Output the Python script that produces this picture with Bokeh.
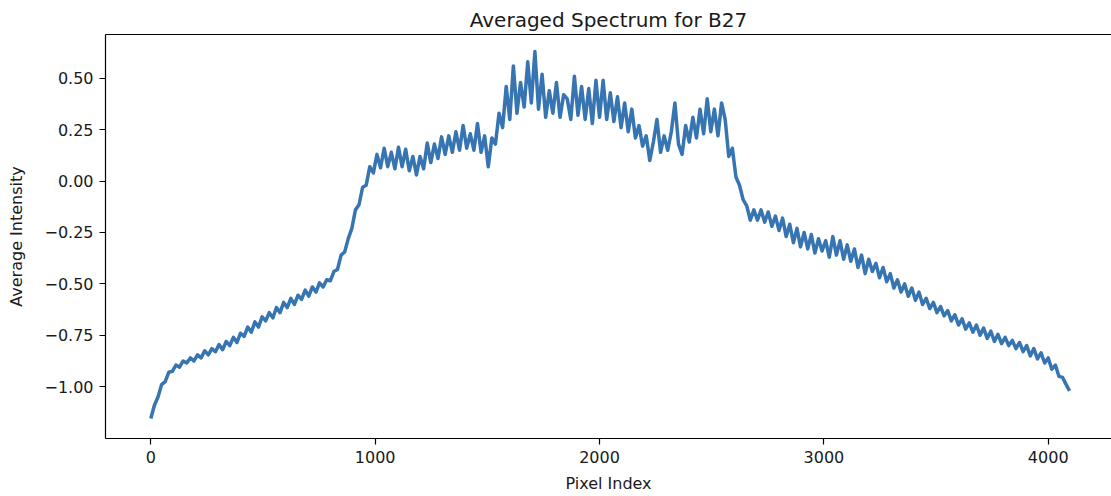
from bokeh.plotting import figure
from bokeh.models import Range1d, FixedTicker, CustomJSTickFormatter, ColumnDataSource, LinearAxis
from bokeh.embed import file_html
from bokeh.resources import INLINE

# ---- data ----
pixel_index = list(range(0, 4096, 16)) + [4095]

intensity = [
    # 0 - 240
    -1.155, -1.09, -1.05, -0.99, -0.975, -0.93, -0.925, -0.895,
    -0.905, -0.875, -0.885, -0.86, -0.875, -0.845, -0.86, -0.825,
    # 256 - 496
    -0.845, -0.815, -0.83, -0.795, -0.82, -0.78, -0.80, -0.76,
    -0.785, -0.74, -0.755, -0.71, -0.735, -0.685, -0.71, -0.66,
    # 512 - 752
    -0.68, -0.64, -0.665, -0.615, -0.64, -0.59, -0.615, -0.57,
    -0.60, -0.555, -0.575, -0.53, -0.56, -0.515, -0.54, -0.495,
    # 768 - 1008
    -0.515, -0.48, -0.485, -0.44, -0.43, -0.36, -0.345, -0.28,
    -0.23, -0.14, -0.115, -0.03, -0.02, 0.07, 0.04, 0.13,
    # 1024 - 1264
    0.065, 0.16, 0.07, 0.14, 0.06, 0.165, 0.07, 0.155,
    0.05, 0.12, 0.03, 0.12, 0.06, 0.185, 0.09, 0.18,
    # 1280 - 1520
    0.11, 0.215, 0.13, 0.22, 0.14, 0.24, 0.15, 0.27,
    0.16, 0.23, 0.15, 0.28, 0.14, 0.22, 0.07, 0.21,
    # 1536 - 1776
    0.18, 0.33, 0.26, 0.46, 0.30, 0.56, 0.33, 0.48,
    0.36, 0.58, 0.38, 0.63, 0.35, 0.52, 0.31, 0.44,
    # 1792 - 2032
    0.33, 0.48, 0.31, 0.42, 0.40, 0.30, 0.51, 0.32,
    0.46, 0.30, 0.45, 0.28, 0.49, 0.31, 0.49, 0.30,
    # 2048 - 2288
    0.43, 0.29, 0.41, 0.26, 0.38, 0.24, 0.35, 0.21,
    0.27, 0.17, 0.22, 0.10, 0.19, 0.30, 0.14, 0.22,
    # 2304 - 2544
    0.15, 0.24, 0.38, 0.18, 0.13, 0.27, 0.19, 0.31,
    0.21, 0.35, 0.23, 0.40, 0.24, 0.35, 0.22, 0.38,
    # 2560 - 2800
    0.30, 0.12, 0.16, 0.02, -0.02, -0.09, -0.12, -0.19,
    -0.14, -0.19, -0.14, -0.20, -0.15, -0.22, -0.17, -0.24,
    # 2816 - 3056
    -0.18, -0.27, -0.21, -0.30, -0.23, -0.32, -0.25, -0.33,
    -0.26, -0.35, -0.28, -0.34, -0.29, -0.37, -0.27, -0.36,
    # 3072 - 3312
    -0.29, -0.38, -0.31, -0.39, -0.33, -0.42, -0.36, -0.45,
    -0.38, -0.44, -0.40, -0.47, -0.42, -0.49, -0.45, -0.52,
    # 3328 - 3568
    -0.48, -0.54, -0.50, -0.56, -0.52, -0.58, -0.54, -0.60,
    -0.57, -0.62, -0.59, -0.64, -0.61, -0.655, -0.63, -0.68,
    # 3584 - 3824
    -0.65, -0.70, -0.67, -0.72, -0.69, -0.735, -0.70, -0.75,
    -0.715, -0.765, -0.73, -0.78, -0.745, -0.79, -0.76, -0.80,
    # 3840 - 4080
    -0.775, -0.815, -0.785, -0.83, -0.80, -0.85, -0.815, -0.865,
    -0.835, -0.885, -0.86, -0.915, -0.895, -0.95, -0.955, -0.99,
    # 4095
    -1.02,
]

x_ticks = [0, 1000, 2000, 3000, 4000]
y_ticks = [-1.0, -0.75, -0.5, -0.25, 0.0, 0.25, 0.5]

FONT = "DejaVu Sans"
TXT = "#1a1a1a"

src = ColumnDataSource(dict(x=pixel_index, y=intensity))

p = figure(
    width=1111, height=496,
    output_backend="svg", toolbar_location=None,
    x_range=Range1d(-202, 4282), y_range=Range1d(-1.252, 0.713),
    min_border_left=105, min_border_right=0,
    min_border_top=34, min_border_bottom=58,
    title="Averaged Spectrum for B27",
)

p.line("x", "y", source=src, line_color="#3674b2", line_width=3.5,
       line_join="round")

# title
p.title.align = "center"
p.title.text_font = FONT
p.title.text_font_size = "20px"
p.title.text_font_style = "normal"
p.title.text_color = TXT
p.title.standoff = 6

# frame: left/bottom axes + a bare top axis as the top spine (right spine is off-canvas)
p.grid.visible = False
p.outline_line_color = None
p.background_fill_color = "white"
p.border_fill_color = "white"

xax = p.below[0]
yax = p.left[0]

top = LinearAxis(major_tick_line_color=None, minor_tick_line_color=None,
                 major_label_text_font_size="0px", axis_line_color="black",
                 axis_line_width=1.2, major_tick_out=0, major_tick_in=0,
                 major_label_standoff=0)
top.ticker = FixedTicker(ticks=[])
p.add_layout(top, "above")

for ax in (xax, yax):
    ax.axis_line_color = "black"
    ax.axis_line_width = 1.2
    ax.major_tick_line_color = "black"
    ax.major_tick_line_width = 1.2
    ax.major_tick_out = 6
    ax.major_tick_in = 0
    ax.minor_tick_line_color = None
    ax.major_label_text_font = FONT
    ax.major_label_text_font_size = "16px"
    ax.major_label_text_color = TXT
    ax.axis_label_text_font = FONT
    ax.axis_label_text_font_size = "16px"
    ax.axis_label_text_font_style = "normal"
    ax.axis_label_text_color = TXT

xax.ticker = FixedTicker(ticks=x_ticks)
yax.ticker = FixedTicker(ticks=y_ticks)
yax.formatter = CustomJSTickFormatter(
    code="return (tick < 0 ? '\u2212' : '') + Math.abs(tick).toFixed(2);"
)
xax.axis_label = "Pixel Index"
yax.axis_label = "Average Intensity"
xax.major_label_standoff = 6
yax.major_label_standoff = 6
xax.axis_label_standoff = 8
yax.axis_label_standoff = 15

open("out.html", "w").write(file_html(p, INLINE))
